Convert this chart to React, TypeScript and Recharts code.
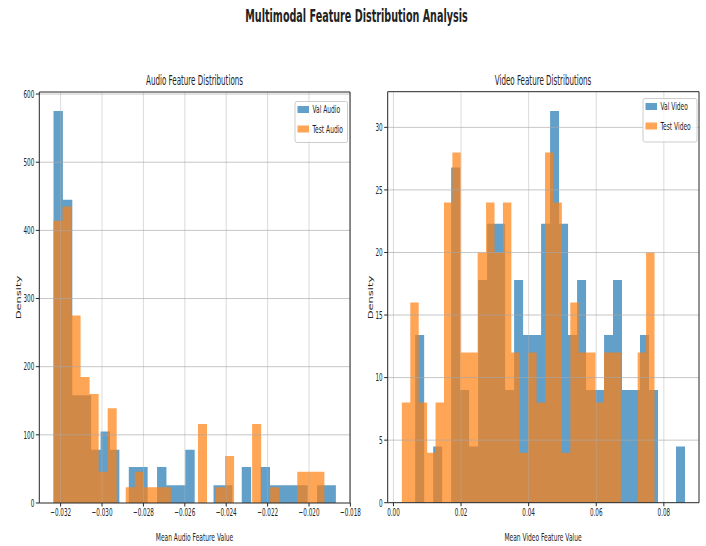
import React from "react";
import { ComposedChart, Area, XAxis, YAxis, ReferenceLine } from "recharts";

// ---------- data (densities, 30 bins each) ----------
const AUDIO_VAL_DENSITY = [575, 445, 158, 158, 78, 105, 78, 0, 53, 53, 0, 53, 26, 26, 78, 0, 0, 26, 26, 0, 53, 0, 53, 26, 26, 26, 26, 0, 26, 26];
const AUDIO_TEST_DENSITY = [414, 435, 275, 185, 160, 46, 139, 0, 23, 46, 23, 23, 23, 0, 0, 0, 116, 0, 23, 69, 0, 0, 116, 0, 23, 0, 0, 46, 46, 46];
const VIDEO_VAL_DENSITY = [13.4, 0, 4.5, 0, 26.8, 9, 4.5, 17.8, 22.3, 22.3, 9, 17.8, 13.4, 13.4, 22.3, 31.3, 22.3, 13.4, 17.8, 9, 9, 13.4, 17.8, 9, 9, 13.4, 9, 0, 0, 4.5];
const VIDEO_TEST_DENSITY = [8, 16, 8, 4, 8, 24, 28, 12, 12, 20, 24, 20, 24, 12, 4, 12, 8, 28, 24, 4, 16, 12, 12, 8, 12, 12, 0, 0, 12, 20];

// bin start and bin width of each histogram
const AUDIO_VAL_BINS = [-0.032344, 0.00045473];
const AUDIO_TEST_BINS = [-0.032344, 0.00043617];
const VIDEO_VAL_BINS = [0.00643, 0.0026607];
const VIDEO_TEST_BINS = [0.00249, 0.0024917];

const AUDIO_X_TICKS = [-0.032, -0.03, -0.028, -0.026, -0.024, -0.022, -0.02, -0.018];
const AUDIO_X_LABELS = ["\u22120.032", "\u22120.030", "\u22120.028", "\u22120.026", "\u22120.024", "\u22120.022", "\u22120.020", "\u22120.018"];
const AUDIO_Y_TICKS = [0, 100, 200, 300, 400, 500, 600];
const VIDEO_X_TICKS = [0, 0.02, 0.04, 0.06, 0.08];
const VIDEO_X_LABELS = ["0.00", "0.02", "0.04", "0.06", "0.08"];
const VIDEO_Y_TICKS = [0, 5, 10, 15, 20, 25, 30];

const AUDIO_X_DOMAIN = [-0.03303, -0.01802];
const AUDIO_Y_DOMAIN = [0, 603];
const VIDEO_X_DOMAIN = [-0.0017, 0.0904];
const VIDEO_Y_DOMAIN = [0, 32.85];

const VAL_COLOR = "#1f77b4";
const TEST_COLOR = "#ff7f0e";
const TEXT_COLOR = "#222222";
const SPINE = "#262626";
const FONT = "'DejaVu Sans', sans-serif";
const SX = 0.54;

function stepData(bins: number[], dens: number[]) {
  const [start, width] = bins;
  const pts = dens.map((d, i) => ({ x: start + i * width, y: d }));
  pts.push({ x: start + dens.length * width, y: 0 });
  return pts;
}

type PanelProps = {
  left: number;
  width: number;
  top: number;
  bottomAxisH: number;
  yAxisW: number;
  marginRight: number;
  valBins: number[];
  valDens: number[];
  testBins: number[];
  testDens: number[];
  xDomain: number[];
  yDomain: number[];
  xTicks: number[];
  xLabels: string[];
  yTicks: number[];
};

function Panel(p: PanelProps) {
  const H = 546;
  const axisY = H - p.bottomAxisH;
  const valData = stepData(p.valBins, p.valDens);
  const testData = stepData(p.testBins, p.testDens);
  const xTick = (props: any) => {
    const { x, payload } = props;
    const idx = p.xTicks.findIndex((t) => Math.abs(t - payload.value) < 1e-9);
    return (
      <text
        transform={`translate(${x},${axisY + 13}) scale(${SX},1)`}
        textAnchor="middle"
        fontSize={10.5}
        fill={TEXT_COLOR}
        fontFamily={FONT}
      >
        {idx >= 0 ? p.xLabels[idx] : ""}
      </text>
    );
  };
  const yTick = (props: any) => {
    const { x, y, payload } = props;
    return (
      <text
        transform={`translate(${x},${y + 3.8}) scale(${SX},1)`}
        textAnchor="end"
        fontSize={10.5}
        fill={TEXT_COLOR}
        fontFamily={FONT}
      >
        {String(payload.value)}
      </text>
    );
  };
  return (
    <div style={{ position: "absolute", left: p.left, top: 0 }}>
      <ComposedChart
        width={p.width}
        height={H}
        margin={{ top: p.top, right: p.marginRight, bottom: 0, left: 0 }}
        style={{ overflow: "visible" }}
      >
        <XAxis
          dataKey="x"
          type="number"
          domain={p.xDomain}
          allowDataOverflow
          ticks={p.xTicks}
          interval={0}
          height={p.bottomAxisH}
          tick={xTick}
          tickSize={3.5}
          tickLine={{ stroke: SPINE }}
          axisLine={{ stroke: SPINE }}
        />
        <YAxis
          type="number"
          domain={p.yDomain}
          allowDataOverflow
          ticks={p.yTicks}
          interval={0}
          width={p.yAxisW}
          tick={yTick}
          tickSize={3.5}
          tickMargin={1.5}
          tickLine={{ stroke: SPINE }}
          axisLine={{ stroke: SPINE }}
        />
        <Area
          data={valData}
          dataKey="y"
          type="stepAfter"
          fill={VAL_COLOR}
          fillOpacity={0.7}
          stroke="none"
          dot={false}
          activeDot={false}
          isAnimationActive={false}
        />
        <Area
          data={testData}
          dataKey="y"
          type="stepAfter"
          fill={TEST_COLOR}
          fillOpacity={0.7}
          stroke="none"
          dot={false}
          activeDot={false}
          isAnimationActive={false}
        />
        {p.xTicks.map((t) => (
          <ReferenceLine key={"gx" + t} x={t} stroke="#b0b0b0" strokeOpacity={0.45} strokeWidth={1} ifOverflow="visible" />
        ))}
        {p.yTicks.filter((t) => t > 0).map((t) => (
          <ReferenceLine key={"gy" + t} y={t} stroke="#a8a8a8" strokeOpacity={0.65} strokeWidth={1} ifOverflow="visible" />
        ))}
        <ReferenceLine x={p.xDomain[1]} stroke={SPINE} strokeWidth={1} ifOverflow="visible" />
        <ReferenceLine y={p.yDomain[1]} stroke={SPINE} strokeWidth={1} ifOverflow="visible" />
      </ComposedChart>
    </div>
  );
}

function SText(props: { x: number; y: number; size: number; children: string; bold?: boolean; anchor?: string; rotate?: boolean }) {
  const tr = props.rotate
    ? `translate(${props.x},${props.y}) scale(${SX},1) rotate(-90)`
    : `translate(${props.x},${props.y}) scale(${SX},1)`;
  return (
    <text
      transform={tr}
      textAnchor={props.anchor || "middle"}
      fontSize={props.size}
      fontWeight={props.bold ? "bold" : "normal"}
      fill={TEXT_COLOR}
      fontFamily={FONT}
    >
      {props.children}
    </text>
  );
}

function LegendBox(props: { x: number; y: number; w: number; h: number; labels: string[] }) {
  const { x, y, w, h, labels } = props;
  const rows = [y + 8, y + 27.5];
  const colors = [VAL_COLOR, TEST_COLOR];
  return (
    <g>
      <rect x={x} y={y} width={w} height={h} rx={2} fill="#ffffff" fillOpacity={0.8} stroke="#cccccc" strokeWidth={1} />
      {labels.map((lab, i) => (
        <g key={lab}>
          <rect x={x + 2.5} y={rows[i] - 3.5} width={11.5} height={7} fill={colors[i]} fillOpacity={0.7} />
          <SText x={x + 17.5} y={rows[i] + 3.8} size={11} anchor="start">{lab}</SText>
        </g>
      ))}
    </g>
  );
}

export default function App() {
  return (
    <div
      style={{
        position: "absolute",
        left: 0,
        top: 0,
        width: 706,
        height: 546,
        background: "#ffffff",
        fontFamily: FONT,
        overflow: "hidden",
      }}
    >
      <Panel
        left={353}
        width={353}
        top={91.7}
        bottomAxisH={43.3}
        yAxisW={34.7}
        marginRight={7}
        valBins={VIDEO_VAL_BINS}
        valDens={VIDEO_VAL_DENSITY}
        testBins={VIDEO_TEST_BINS}
        testDens={VIDEO_TEST_DENSITY}
        xDomain={VIDEO_X_DOMAIN}
        yDomain={VIDEO_Y_DOMAIN}
        xTicks={VIDEO_X_TICKS}
        xLabels={VIDEO_X_LABELS}
        yTicks={VIDEO_Y_TICKS}
      />
      <Panel
        left={0}
        width={372}
        top={92}
        bottomAxisH={43}
        yAxisW={39.3}
        marginRight={22}
        valBins={AUDIO_VAL_BINS}
        valDens={AUDIO_VAL_DENSITY}
        testBins={AUDIO_TEST_BINS}
        testDens={AUDIO_TEST_DENSITY}
        xDomain={AUDIO_X_DOMAIN}
        yDomain={AUDIO_Y_DOMAIN}
        xTicks={AUDIO_X_TICKS}
        xLabels={AUDIO_X_LABELS}
        yTicks={AUDIO_Y_TICKS}
      />
      <svg
        width={706}
        height={546}
        style={{ position: "absolute", left: 0, top: 0, pointerEvents: "none" }}
      >
        <SText x={356.5} y={22} size={17.8} bold>Multimodal Feature Distribution Analysis</SText>
        <SText x={194.5} y={85} size={13.2}>Audio Feature Distributions</SText>
        <SText x={543} y={85} size={13.2}>Video Feature Distributions</SText>
        <SText x={194.5} y={541} size={11}>Mean Audio Feature Value</SText>
        <SText x={543} y={541} size={11}>Mean Video Feature Value</SText>
        <SText x={21} y={297.5} size={11.5} rotate>Density</SText>
        <SText x={373} y={297.5} size={11.5} rotate>Density</SText>
        <LegendBox x={295} y={101.5} w={52.5} h={41} labels={["Val Audio", "Test Audio"]} />
        <LegendBox x={643} y={98.5} w={54} h={43.5} labels={["Val Video", "Test Video"]} />
      </svg>
    </div>
  );
}
